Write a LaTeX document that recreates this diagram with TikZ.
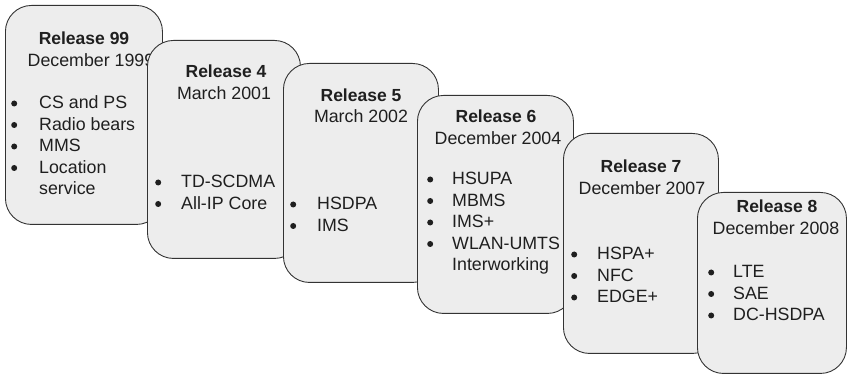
\documentclass[tikz,border=0pt]{standalone}
\usepackage{fontspec}
\setmainfont{Liberation Sans}
\newcommand\relbul{\tikz[baseline=-5.5pt]{\fill[black!88] (0pt,0pt) circle[radius=3pt];}}
\newcommand\rellist[2]{\begin{tabular}[t]{@{}p{#1}@{}l@{}}#2\end{tabular}}
\begin{document}
\begin{tikzpicture}[x=1pt,y=-1pt,
 relbox/.style={draw=black!80, fill=black!7, line width=0.9pt, rounded corners=26pt, inner sep=0pt, anchor=north west},
 ttl/.style={anchor=base, inner sep=0pt, font=\fontsize{17.5}{21.5}\selectfont\bfseries, text=black!88},
 dt/.style={anchor=base, inner sep=0pt, font=\fontsize{17.8}{21.5}\selectfont, text=black!88},
 items/.style={anchor=base west, inner sep=0pt, font=\fontsize{17.8}{21.5}\selectfont, text=black!88, align=left}]
\useasboundingbox (0,0) rectangle (847,374);
% Release 99
\node[relbox, minimum width=157pt, minimum height=219pt] (b1) at (5,5) {};
\node[ttl] (t1) at (84,45) {Release 99};
\node[dt] (d1) at (91,67) {December 1999};
\node[items] (l1) at (11,109) {\rellist{28pt}{\relbul&CS and PS\\\relbul&Radio bears\\\relbul&MMS\\\relbul&Location\\&service}};
% Release 4
\node[relbox, minimum width=153pt, minimum height=218pt] (b2) at (147,40) {};
\node[ttl] (t2) at (226,78) {Release 4};
\node[dt] (d2) at (224,100) {March 2001};
\node[items] (l2) at (155,188) {\rellist{26pt}{\relbul&TD-SCDMA\\\relbul&All-IP Core}};
% Release 5
\node[relbox, minimum width=155pt, minimum height=219pt] (b3) at (283,63) {};
\node[ttl] (t3) at (361,102) {Release 5};
\node[dt] (d3) at (361,123) {March 2002};
\node[items] (l3) at (290,210) {\rellist{27pt}{\relbul&HSDPA\\\relbul&IMS}};
% Release 6
\node[relbox, minimum width=156pt, minimum height=218pt] (b4) at (417,95) {};
\node[ttl] (t4) at (496,123) {Release 6};
\node[dt] (d4) at (498,145) {December 2004};
\node[items] (l4) at (427,185) {\rellist{25pt}{\relbul&HSUPA\\\relbul&MBMS\\\relbul&IMS+\\\relbul&WLAN-UMTS\\&Interworking}};
% Release 7
\node[relbox, minimum width=155pt, minimum height=220pt] (b5) at (563,133) {};
\node[ttl] (t5) at (641,173) {Release 7};
\node[dt] (d5) at (642,195) {December 2007};
\node[items] (l5) at (571,260) {\rellist{26pt}{\relbul&HSPA+\\\relbul&NFC\\\relbul&EDGE+}};
% Release 8
\node[relbox, minimum width=149pt, minimum height=181pt] (b6) at (697,192) {};
\node[ttl] (t6) at (777,213) {Release 8};
\node[dt] (d6) at (776,235) {December 2008};
\node[items] (l6) at (708,278) {\rellist{25pt}{\relbul&LTE\\\relbul&SAE\\\relbul&DC-HSDPA}};
\end{tikzpicture}
\end{document}
